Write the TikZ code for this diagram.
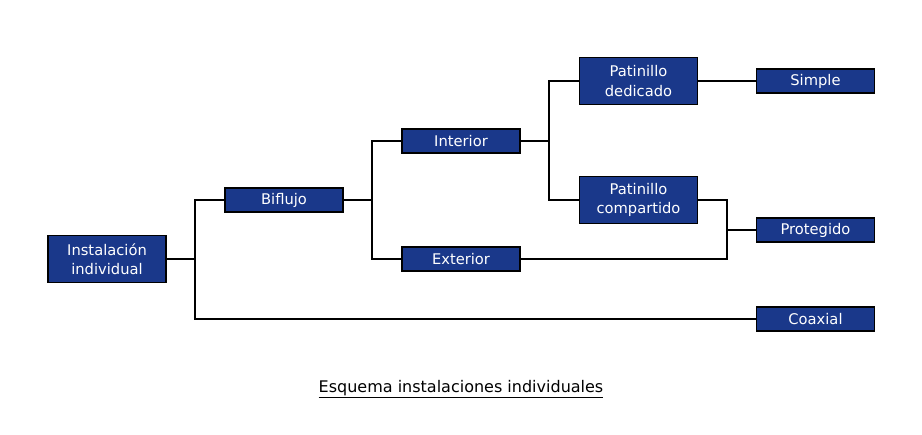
\documentclass[tikz,border=0pt]{standalone}
\usepackage{fontspec}
\setmainfont{DejaVu Sans}
\usetikzlibrary{calc}
\definecolor{boxblue}{RGB}{26,56,138}
\begin{document}
\begin{tikzpicture}[x=1pt,y=-1pt,
  box/.style={draw=black,line width=1.6pt,fill=boxblue,text=white,
    minimum width=118pt,inner sep=0pt,align=center,font=\fontsize{14.7}{19.5}\selectfont},
  sbox/.style={box,minimum height=24pt},
  dbox/.style={box,minimum height=47pt},
  conn/.style={draw=black,line width=1.6pt}]
\useasboundingbox (0,0) rectangle (922,435);
\node[dbox] (inst) at (107,259) {Instalación\\individual};
\node[sbox] (bif) at (284,200) {Biflujo};
\node[sbox] (int) at (461,141) {Interior};
\node[sbox] (ext) at (461,259) {Exterior};
\node[dbox] (pd) at (638.5,81) {Patinillo\\dedicado};
\node[dbox] (pc) at (638.5,200) {Patinillo\\compartido};
\node[sbox] (sim) at (815.5,81) {Simple};
\node[sbox] (pro) at (815.5,230) {Protegido};
\node[sbox] (coa) at (815.5,319) {Coaxial};
\node[font=\fontsize{16}{18}\selectfont] (cap) at (461,389) {\underline{Esquema instalaciones individuales}};
\coordinate (j1) at (195,259);
\coordinate (j2) at (372,200);
\coordinate (j3) at (549,141);
\coordinate (j4) at (727,230);
\draw[conn] (inst.east) -- (j1);
\draw[conn] (bif.west) -| (j1) |- (coa.west);
\draw[conn] (bif.east) -- (j2);
\draw[conn] (int.west) -| (j2) |- (ext.west);
\draw[conn] (int.east) -- (j3);
\draw[conn] (pd.west) -| (j3) |- (pc.west);
\draw[conn] (pd.east) -- (sim.west);
\draw[conn] (pc.east) -| (j4) |- (ext.east);
\draw[conn] (j4) -- (pro.west);
\end{tikzpicture}
\end{document}
